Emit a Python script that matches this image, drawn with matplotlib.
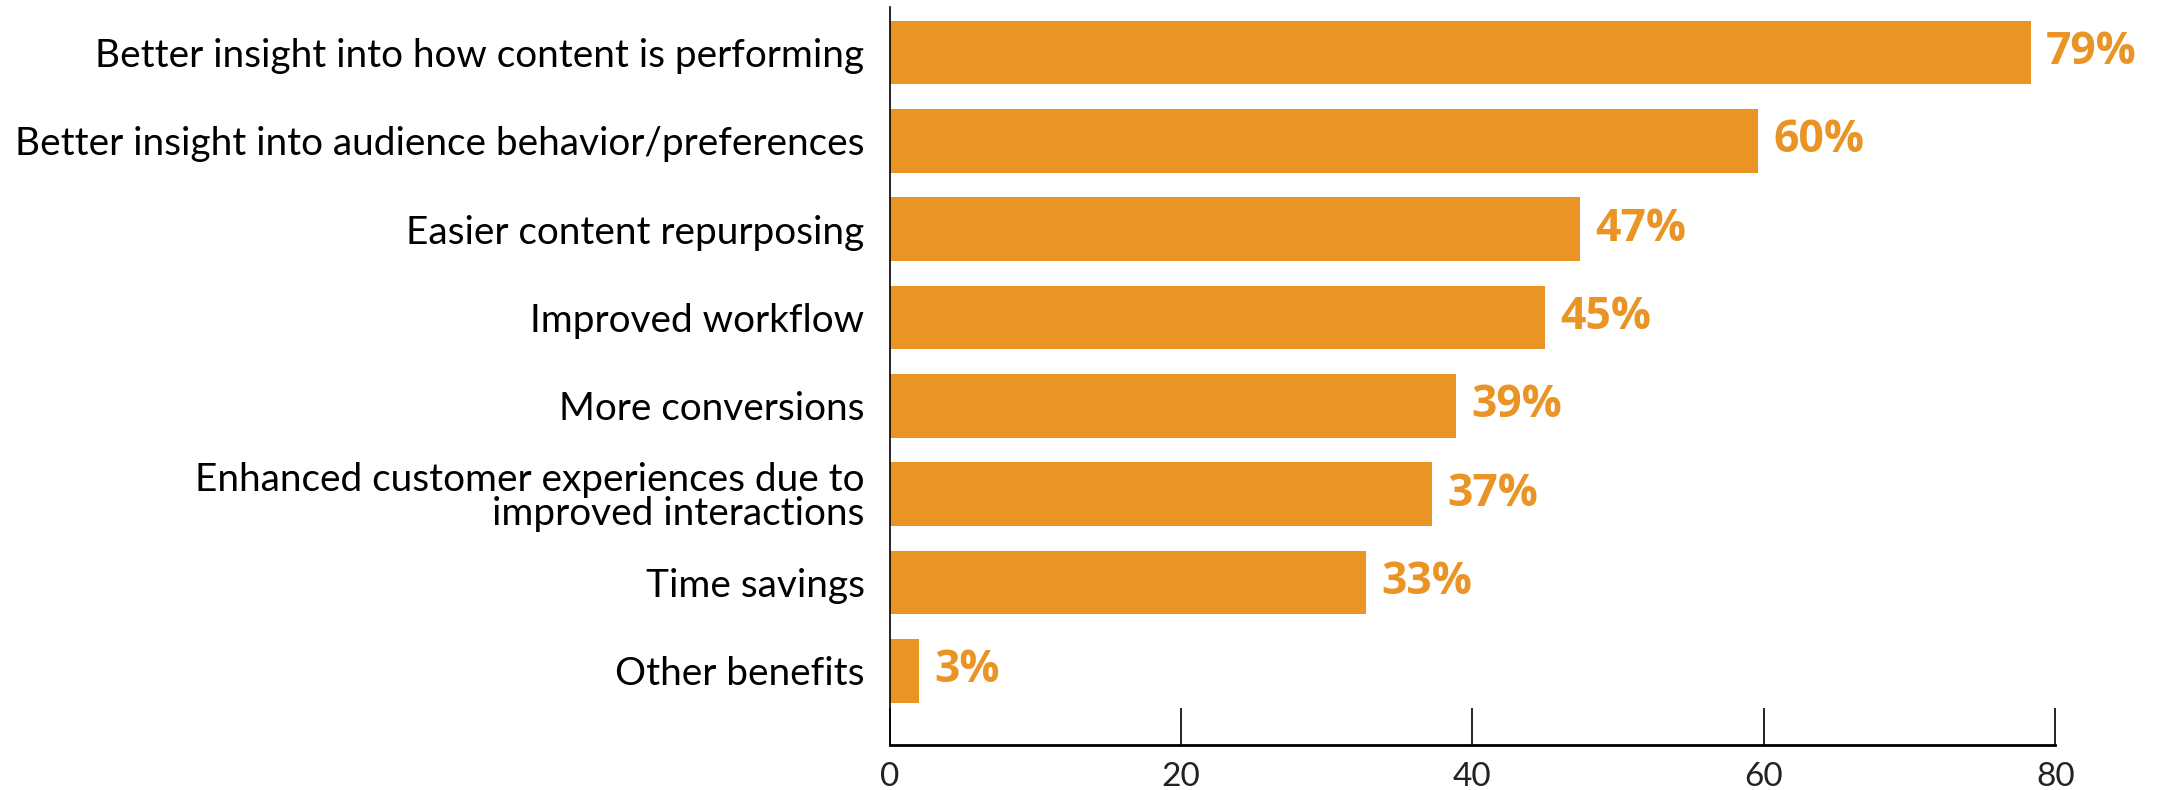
import matplotlib
matplotlib.use("Agg")
import matplotlib.pyplot as plt

categories = [
    "Better insight into how content is performing",
    "Better insight into audience behavior/preferences",
    "Easier content repurposing",
    "Improved workflow",
    "More conversions",
    "Enhanced customer experiences due to\nimproved interactions",
    "Time savings",
    "Other benefits",
]
values = [78.3, 59.6, 47.4, 45.0, 38.9, 37.2, 32.7, 2.0]
value_labels = ["79%", "60%", "47%", "45%", "39%", "37%", "33%", "3%"]
xticks = [0, 20, 40, 60, 80]

bar_color = "#E99425"
fig = plt.figure(figsize=(21.59, 7.9), dpi=100)
ax = fig.add_axes([0.412, 0.057, 0.540, 0.934])

pos = list(range(len(categories)))
ax.barh(pos, values, height=0.72, color=bar_color)
ax.set_ylim(7.84, -0.514)
ax.set_xlim(0, 80)

ax.set_yticks(pos)
ax.set_yticklabels(categories, fontsize=27.9, family="Lato", linespacing=0.95)
ax.tick_params(axis="y", length=0, pad=18)
ax.set_xticks(xticks)
ax.set_xticklabels([str(t) for t in xticks], fontsize=24, family="Lato",
                   color="#222222")
ax.tick_params(axis="x", direction="in", length=27, width=1.2, pad=12)

for p, v, lab in zip(pos, values, value_labels):
    ax.annotate(lab, (v, p), xytext=(11, 0), textcoords="offset points",
                va="center", ha="left", fontsize=32, fontweight="bold",
                family="Open Sans", color=bar_color)

for s in ["top", "right"]:
    ax.spines[s].set_visible(False)
ax.spines["left"].set_linewidth(1.2)
ax.spines["bottom"].set_linewidth(2)

fig.savefig("out.png", dpi=100)
